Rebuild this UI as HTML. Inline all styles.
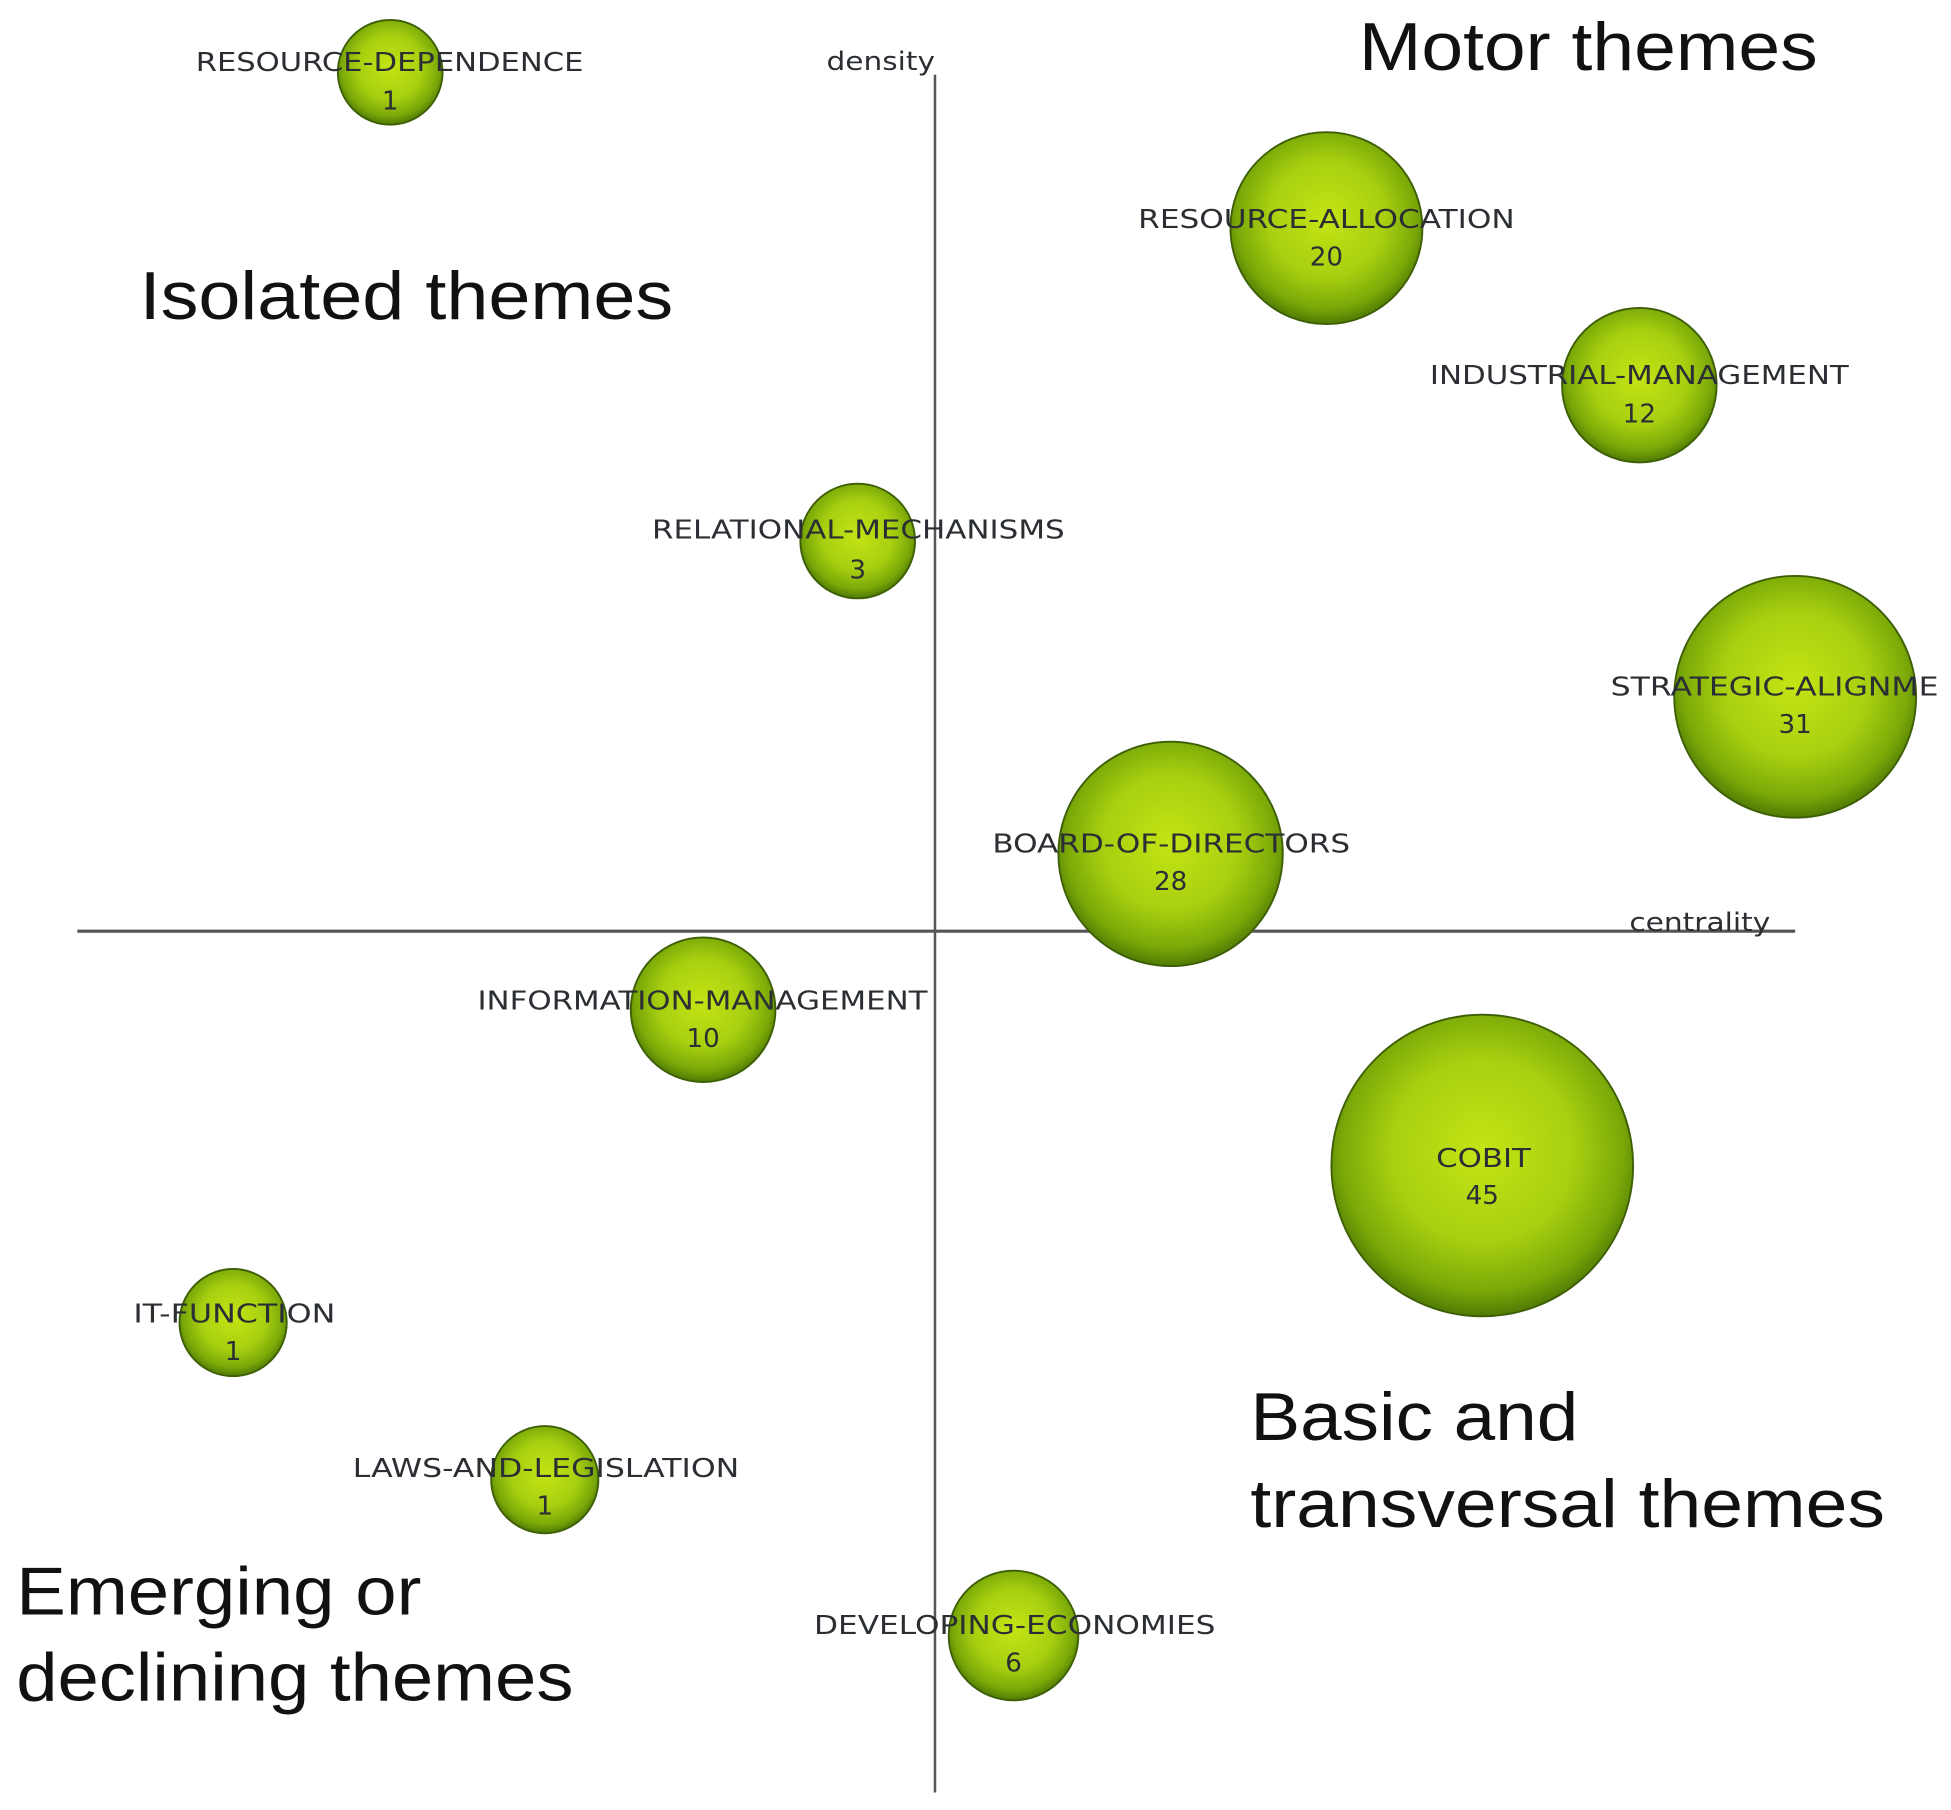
<!DOCTYPE html>
<html><head><meta charset="utf-8"><style>html,body{margin:0;padding:0;background:#fff}svg{display:block}</style></head>
<body>
<svg width="1951" height="1810" viewBox="0 0 1565 1452" preserveAspectRatio="none" xmlns="http://www.w3.org/2000/svg">
<defs>
<radialGradient id="g" cx="50%" cy="45%" r="55%">
<stop offset="0" stop-color="#c4e414"/>
<stop offset="0.55" stop-color="#a8d010"/>
<stop offset="0.85" stop-color="#7aa808"/>
<stop offset="1" stop-color="#4f7a04"/>
</radialGradient>
</defs>
<rect width="1565" height="1452" fill="#fff"/>
<line x1="750" y1="60" x2="750" y2="1438" stroke="#555" stroke-width="2"/>
<line x1="62" y1="747" x2="1440" y2="747" stroke="#555" stroke-width="2.5"/>
<g fill="url(#g)" stroke="#3d5e05" stroke-width="1.5">
<circle cx="313" cy="58" r="42"/>
<circle cx="1064" cy="183" r="77"/>
<circle cx="1315" cy="309" r="62"/>
<circle cx="688" cy="434" r="46"/>
<circle cx="1440" cy="559" r="97"/>
<circle cx="939" cy="685" r="90"/>
<circle cx="564" cy="810" r="58"/>
<circle cx="1189" cy="935" r="121"/>
<circle cx="187" cy="1061" r="43"/>
<circle cx="437" cy="1187" r="43"/>
<circle cx="813" cy="1312" r="52"/>
</g>
<g font-family="'DejaVu Sans', sans-serif" font-size="21" fill="#2b2f33" lengthAdjust="spacingAndGlyphs">
<text x="157" y="57" textLength="311" lengthAdjust="spacingAndGlyphs">RESOURCE-DEPENDENCE</text>
<text x="313" y="88" text-anchor="middle">1</text>
<text x="913" y="183" textLength="302" lengthAdjust="spacingAndGlyphs">RESOURCE-ALLOCATION</text>
<text x="1064" y="213" text-anchor="middle">20</text>
<text x="1147" y="308" textLength="336" lengthAdjust="spacingAndGlyphs">INDUSTRIAL-MANAGEMENT</text>
<text x="1315" y="339" text-anchor="middle">12</text>
<text x="523" y="432" textLength="331" lengthAdjust="spacingAndGlyphs">RELATIONAL-MECHANISMS</text>
<text x="688" y="464" text-anchor="middle">3</text>
<text x="1292" y="558" textLength="263" lengthAdjust="spacingAndGlyphs">STRATEGIC-ALIGNME</text>
<text x="1440" y="588" text-anchor="middle">31</text>
<text x="796" y="684" textLength="287" lengthAdjust="spacingAndGlyphs">BOARD-OF-DIRECTORS</text>
<text x="939" y="714" text-anchor="middle">28</text>
<text x="383" y="810" textLength="361" lengthAdjust="spacingAndGlyphs">INFORMATION-MANAGEMENT</text>
<text x="564" y="840" text-anchor="middle">10</text>
<text x="1152" y="936" textLength="76" lengthAdjust="spacingAndGlyphs">COBIT</text>
<text x="1189" y="966" text-anchor="middle">45</text>
<text x="107" y="1061" textLength="162" lengthAdjust="spacingAndGlyphs">IT-FUNCTION</text>
<text x="187" y="1091" text-anchor="middle">1</text>
<text x="283" y="1185" textLength="310" lengthAdjust="spacingAndGlyphs">LAWS-AND-LEGISLATION</text>
<text x="437" y="1215" text-anchor="middle">1</text>
<text x="653" y="1311" textLength="322" lengthAdjust="spacingAndGlyphs">DEVELOPING-ECONOMIES</text>
<text x="813" y="1341" text-anchor="middle">6</text>
<text x="663" y="56" textLength="87" lengthAdjust="spacingAndGlyphs">density</text>
<text x="1307" y="747" textLength="113" lengthAdjust="spacingAndGlyphs">centrality</text>
</g>
<g font-family="'Liberation Sans', sans-serif" font-size="54" fill="#111">
<text x="1090" y="56" textLength="368" lengthAdjust="spacingAndGlyphs">Motor themes</text>
<text x="112" y="256" textLength="428" lengthAdjust="spacingAndGlyphs">Isolated themes</text>
<text x="1003" y="1155" textLength="263" lengthAdjust="spacingAndGlyphs">Basic and</text>
<text x="1003" y="1225" textLength="509" lengthAdjust="spacingAndGlyphs">transversal themes</text>
<text x="13" y="1295" textLength="325" lengthAdjust="spacingAndGlyphs">Emerging or</text>
<text x="13" y="1364" textLength="447" lengthAdjust="spacingAndGlyphs">declining themes</text>
</g>
</svg>
</body></html>
